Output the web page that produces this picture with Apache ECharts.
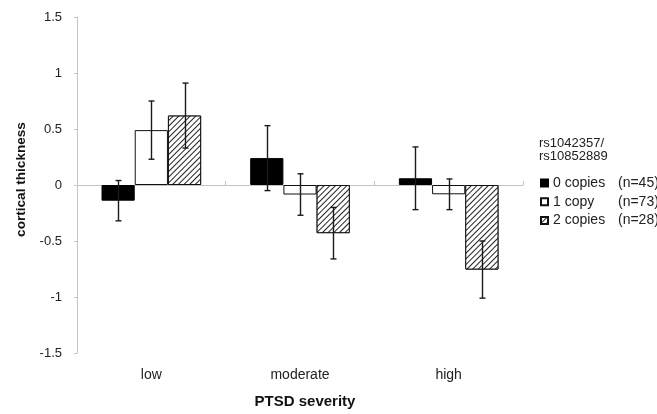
<!DOCTYPE html>
<html>
<head>
<meta charset="utf-8">
<script src="https://cdn.jsdelivr.net/npm/echarts@6/dist/echarts.min.js"></script>
<style>html,body{margin:0;padding:0;background:#fff;}#c{width:657px;height:414px;}</style>
</head>
<body>
<div id="c"></div>
<script>
var categories = ['low', 'moderate', 'high'];
var seriesNames = ['0 copies', '1 copy', '2 copies'];
var sampleSizes = ['(n=45)', '(n=73)', '(n=28)'];
var zeroCopies = [-0.14, 0.24, 0.06];
var zeroCopiesErr = [0.18, 0.29, 0.28];
var oneCopy = [0.49, -0.085, -0.083];
var oneCopyErr = [0.26, 0.185, 0.137];
var twoCopies = [0.62, -0.43, -0.755];
var twoCopiesErr = [0.29, 0.23, 0.255];
var yTicks = {min: -1.5, max: 1.5, interval: 0.5};

var FONT = "'Liberation Sans', Arial, Helvetica, sans-serif";
var GAP = 0.33;
var chart = echarts.init(document.getElementById('c'));

function errData(vals, errs) {
  return vals.map(function (v, i) { return [i, v, errs[i]]; });
}
function errSeries(idx, vals, errs) {
  return {
    type: 'custom',
    z: 5,
    silent: true,
    data: errData(vals, errs),
    renderItem: function (params, api) {
      var cat = api.value(0), v = api.value(1), e = api.value(2);
      var band = api.size([1, 0])[0];
      var bw = band * (1 - GAP) / 3;
      var off = (idx - 1) * bw;
      var top = api.coord([cat, v + e]);
      var bot = api.coord([cat, v - e]);
      var x = Math.round(top[0] + off) + 0.5;
      var cap = 3;
      var st = {stroke: '#1a1a1a', lineWidth: 1.4};
      return {
        type: 'group',
        children: [
          {type: 'line', shape: {x1: x, y1: top[1], x2: x, y2: bot[1]}, style: st},
          {type: 'line', shape: {x1: x - cap, y1: top[1], x2: x + cap, y2: top[1]}, style: st},
          {type: 'line', shape: {x1: x - cap, y1: bot[1], x2: x + cap, y2: bot[1]}, style: st}
        ]
      };
    }
  };
}

var hatch = {
  symbol: 'rect', symbolSize: 1,
  dashArrayX: [1, 0], dashArrayY: [0.8, 2.2],
  rotation: -Math.PI / 4,
  color: '#222', backgroundColor: '#fff'
};

var option = {
  animation: false,
  textStyle: {fontFamily: FONT},
  aria: {enabled: false},
  title: {
    text: 'rs1042357/\nrs10852889',
    left: 534, top: 132,
    textStyle: {fontFamily: FONT, fontSize: 13, fontWeight: 'normal', color: '#222', lineHeight: 13}
  },
  legend: {
    orient: 'vertical',
    left: 535, top: 171,
    itemWidth: 7, itemHeight: 7,
    itemGap: 4.7,
    icon: 'rect',
    data: seriesNames,
    formatter: function (name) {
      var i = seriesNames.indexOf(name);
      return '{a|' + name + '}{b|' + sampleSizes[i] + '}';
    },
    textStyle: {
      fontFamily: FONT, fontSize: 14, color: '#222', lineHeight: 14,
      rich: {
        a: {width: 65, fontFamily: FONT, fontSize: 14, color: '#222', lineHeight: 14},
        b: {fontFamily: FONT, fontSize: 14, color: '#222', lineHeight: 14}
      }
    }
  },
  grid: {left: 77, right: 134, top: 17, bottom: 59},
  xAxis: [{
    type: 'category',
    data: categories,
    position: 'bottom',
    axisLine: {show: false, onZero: false},
    axisTick: {show: false},
    axisLabel: {color: '#222', fontSize: 14, fontFamily: FONT, margin: 15},
    name: 'PTSD severity',
    nameLocation: 'middle',
    nameGap: 41,
    nameTextStyle: {fontFamily: FONT, fontSize: 15, fontWeight: 'bold', color: '#111', padding: [0, 0, 0, 10]}
  }, {
    type: 'category',
    data: categories,
    axisLine: {show: true, onZero: true, onZeroAxisIndex: 0, lineStyle: {color: '#c4c4c4', width: 1}},
    axisTick: {show: true, length: 4, lineStyle: {color: '#c4c4c4'}},
    axisLabel: {show: false},
    splitLine: {show: false}
  }],
  yAxis: {
    type: 'value',
    min: yTicks.min, max: yTicks.max, interval: yTicks.interval,
    axisLine: {show: true, lineStyle: {color: '#c4c4c4'}},
    axisTick: {show: true, length: 3, lineStyle: {color: '#c4c4c4'}},
    splitLine: {show: false},
    axisLabel: {color: '#222', fontSize: 13, fontFamily: FONT, margin: 15},
    name: 'cortical thickness',
    nameLocation: 'middle',
    nameGap: 42,
    nameTextStyle: {fontFamily: FONT, fontSize: 13.6, fontWeight: 'bold', color: '#111', padding: [0, 0, 0, 11]}
  },
  series: [{
    name: seriesNames[0], type: 'bar', data: zeroCopies,
    barGap: '0%', barCategoryGap: (GAP * 100) + '%',
    itemStyle: {color: '#000', borderColor: '#000', borderWidth: 1}
  }, {
    name: seriesNames[1], type: 'bar', data: oneCopy,
    itemStyle: {color: '#fff', borderColor: '#111', borderWidth: 1}
  }, {
    name: seriesNames[2], type: 'bar', data: twoCopies,
    itemStyle: {color: '#fff', borderColor: '#111', borderWidth: 1, decal: hatch}
  },
  errSeries(0, zeroCopies, zeroCopiesErr),
  errSeries(1, oneCopy, oneCopyErr),
  errSeries(2, twoCopies, twoCopiesErr)
  ]
};
chart.setOption(option);
</script>
</body>
</html>
